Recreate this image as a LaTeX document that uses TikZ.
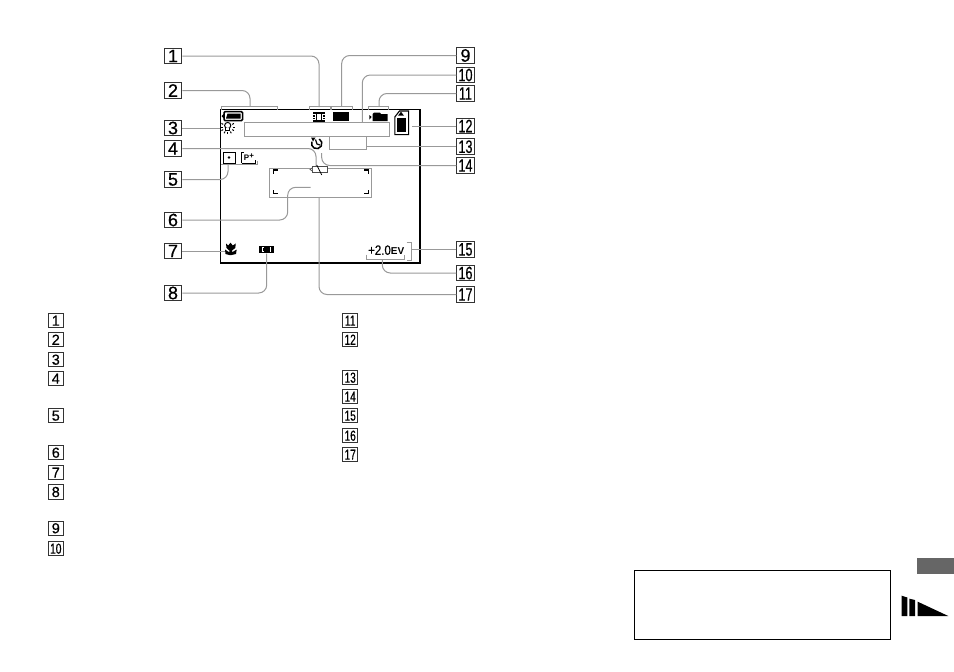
\documentclass[tikz,border=0pt]{standalone}
\usepackage{fontspec}
\setmainfont{Liberation Sans}
\newfontfamily\numfont[FakeBold=0.5]{Liberation Sans}
\newfontfamily\narrowfont[FakeStretch=0.7,FakeBold=0.5]{Liberation Sans}
\newfontfamily\evfont[FakeStretch=0.85,FakeBold=0.4]{Liberation Sans}
\usepackage{tikz}
\usetikzlibrary{calc}
\definecolor{leadgray}{gray}{0.6}
\tikzset{
  numbig/.style={draw=black!80,line width=1pt,fill=white,minimum width=17.5pt,minimum height=15.5pt,inner sep=0pt,font=\fontsize{18}{18}\selectfont\numfont},
  numsmall/.style={draw=black!80,line width=1pt,fill=white,minimum width=14.5pt,minimum height=14.5pt,inner sep=0pt,font=\fontsize{14.5}{15}\selectfont\numfont},
  leader/.style={draw=leadgray,line width=1pt,rounded corners=8pt},
  bracket/.style={draw=leadgray,line width=0.9pt},
  frame/.style={draw=leadgray,line width=1pt,inner sep=0pt},
  cornermark/.style={draw=black,line width=1.3pt}
}
\begin{document}
\begin{tikzpicture}[x=1pt,y=-1pt]
  \useasboundingbox (0,0) rectangle (954,672);
  % number boxes round the screen
  \foreach \n/\y in {1/56,2/90.5,3/128,4/148.5,5/179.5,6/220,7/251,8/293} {
    \node[numbig] (t\n) at (173,\y) {\n};
  }
  \node[numbig] (t9) at (465.5,55.5) {9};
  \foreach \n/\y in {10/75,11/93.5,12/126,13/146.7,14/165.5,15/249.5,16/273,17/294.5} {
    \node[numbig] (t\n) at (465.5,\y) {\narrowfont\n};
  }
  % screen
  \node[draw=black,line width=1.1pt,minimum width=199.5pt,minimum height=153.5pt,inner sep=0pt] (screen) at (320.25,186.25) {};
  \node[frame,minimum width=144.7pt,minimum height=14pt] (date) at (316.65,129.7) {};
  \node[frame,minimum width=102.4pt,minimum height=29.4pt] (af) at (320.5,183) {};
  % end points of the leaders
  \coordinate (b1) at (319,107);
  \coordinate (b2) at (250,106.5);
  \coordinate (b3) at (220,128);
  \coordinate (c4) at (316,166);
  \coordinate (b5) at (228,164);
  \coordinate (c6a) at (287.7,187.3);
  \coordinate (c6b) at (310.7,187.3);
  \coordinate (b7) at (225,251);
  \coordinate (b8) at (266.7,253.5);
  \coordinate (b9) at (341.7,106.7);
  \coordinate (c10) at (362.3,122.7);
  \coordinate (b11) at (379,106.7);
  \coordinate (c12) at (411.7,126);
  \coordinate (b13) at (366.7,146.7);
  \coordinate (c14) at (321.7,153);
  \coordinate (b15) at (411,249.5);
  \coordinate (b16) at (382.3,259.3);
  \coordinate (c17) at (319,197.7);
  \draw[leader] (t1.east) -| (b1);
  \draw[leader] (t2.east) -| (b2);
  \draw[leader] (t3.east) -- (b3);
  \draw[leader] (t4.east) -| (c4);
  \draw[leader] (t5.east) -| (b5);
  \draw[leader] (t6.east) -| (c6a) -- (c6b);
  \draw[leader] (t7.east) -- (b7);
  \draw[leader] (t8.east) -| (b8);
  \draw[leader] (t9.west) -| (b9);
  \draw[leader] (t10.west) -| (c10);
  \draw[leader] (t11.west) -| (b11);
  \draw[leader] (t12.west) -- (c12);
  \draw[leader] (t13.west) -- (b13);
  \draw[leader] (t14.west) -| (c14);
  \draw[leader] (t15.west) -- (b15);
  \draw[leader] (t16.west) -| (b16);
  \draw[leader] (t17.west) -| (c17);
  % brackets
  \draw[bracket] (221.5,110) -- (221.5,106.7) -- (277,106.7) -- (277,110);
  \draw[bracket] (309.5,110) -- (309.5,106.7) -- (330,106.7) -- (330,110);
  \draw[bracket] (331.5,110) -- (331.5,106.7) -- (352,106.7) -- (352,110);
  \draw[bracket] (368.5,110) -- (368.5,106.7) -- (388,106.7) -- (388,110);
  \draw[bracket] (329,136.7) -- (329,149.3) -- (366.7,149.3) -- (366.7,136.7);
  \draw[bracket] (221,164.3) -- (257.7,164.3) -- (257.7,161);
  \draw[bracket] (366.7,254.5) -- (366.7,259.3) -- (404.3,259.3) -- (404.3,254.5);
  \draw[bracket] (406.7,242.5) -- (411,242.5) -- (411,260) -- (406.7,260);
  % focus corners
  \draw[cornermark] (273.3,173.5) -- (273.3,170) -- (277.5,170);
  \draw[cornermark] (364,170) -- (368.3,170) -- (368.3,173.5);
  \draw[cornermark] (273.3,190) -- (273.3,193.5) -- (277.5,193.5);
  \draw[cornermark] (364,193.5) -- (368.3,193.5) -- (368.3,190);
  % shake mark in the frame
  \draw[draw=black!70,line width=0.8pt,fill=white] (312,166.3) rectangle (327.5,172.5);
  \draw[draw=black!70,fill=white,line width=0.7pt] (312,168) -- (310,169.4) -- (312,170.8);
  \draw[black,line width=0.8pt] (316.7,165) -- (321.7,175);
  % battery
  \draw[black,line width=1.5pt,rounded corners=1pt] (224,111.7) rectangle (242.5,120.5);
  \fill[black] (227.5,113.5) -- (240.5,113.5) -- (240.5,118.5) -- (226,118.5) -- cycle;
  \fill[black] (221.5,116) -- (224.5,113) -- (224.5,119) -- cycle;
  % film
  \fill[black] (313,112) rectangle (325,113.8);
  \fill[black] (313,120.2) rectangle (325,122);
  \fill[black] (316,112) rectangle (317.2,122);
  \fill[black] (320.8,112) rectangle (322,122);
  \foreach \i in {0,2.4,4.8,7.2} {
    \fill[black] (313,113+\i) rectangle (315,114.4+\i);
    \fill[black] (323,113+\i) rectangle (325,114.4+\i);
  }
  % black marks at the top
  \fill[black] (332.7,111.7) rectangle (349,121);
  \fill[black] (372.7,114) -- (374,112.7) -- (380,112.7) -- (381,114) -- (387.7,114) -- (387.7,121) -- (372.7,121) -- cycle;
  \fill[black] (369.3,115) -- (371.7,117) -- (369.3,119.5) -- cycle;
  % card
  \draw[black,line width=1.1pt] (394.8,117) -- (399.5,111) -- (408.6,111) -- (408.6,134.6) -- (394.8,134.6) -- cycle;
  \fill[black] (396.7,117.7) rectangle (406,131.7);
  \fill[black] (401,111.7) -- (404,115.7) -- (398,115.7) -- cycle;
  % bulb
  \draw[black,line width=1pt] (227.7,125.5) circle (3.1);
  \fill[white] (225.5,127.5) rectangle (230,129.5);
  \draw[black,line width=1pt] (225.7,128) -- (225.7,130.4) -- (229.7,130.4) -- (229.7,128);
  \foreach \a in {0,180,30,60,90,120,150,-30,-150} {
    \draw[black,line width=1pt] ($(227.7,127)+(\a:5.2)$) -- ($(227.7,127)+(\a:7.2)$);
  }
  % timer
  \draw[black,line width=1.5pt] (319.3,139) arc[start angle=-60,end angle=200,radius=5.2];
  \fill[black] (315.5,137.5) -- (313,141.5) -- (311,137.5) -- cycle;
  \draw[black,line width=1.2pt] (315.5,139.5) -- (317,144) -- (320,145);
  % small boxes
  \draw[black,line width=0.9pt] (223,152) rectangle (235,163);
  \fill[black] (229,157.5) circle (1.3);
  \draw[black,line width=0.9pt] (241.7,163) -- (241.7,152.3) -- (243.5,152.3);
  \draw[black,line width=0.9pt] (241.7,163) -- (255,163) -- (255,160);
  \node[inner sep=0pt,font=\fontsize{8}{8}\selectfont\bfseries] (pplus) at (249,157) {P\raisebox{1.5pt}{+}};
  % tulip
  \fill[black] (226,243.5) -- (228.2,245.5) -- (230.5,242.7) -- (232.8,245.5) -- (235.8,243.5) -- (235.3,248) -- (232,250.5) -- (232,252.3) -- (236.7,249.5) -- (236,254) -- (231.5,255) -- (229.5,255) -- (225.5,254) -- (225,249.5) -- (229.3,252.3) -- (229.3,250.5) -- (226.5,248) -- cycle;
  % meter mark
  \fill[black] (259,246) rectangle (274,253.4);
  \draw[white,line width=0.7pt] (263.5,247.7) -- (262.5,247.7) -- (262.5,251.7) -- (263.5,251.7);
  \draw[white,line width=0.7pt] (269.5,247.7) -- (270.5,247.7) -- (270.5,251.7) -- (269.5,251.7);
  % exposure value
  \node[inner sep=0pt,anchor=base west] (ev) at (368,254.8) {\fontsize{13.5}{14}\selectfont\evfont +2.0\fontsize{10}{10}\selectfont\rmfamily\bfseries EV};
  % key list
  \foreach \n/\y in {1/320.7,2/339.7,3/359.7,4/378.7,5/415.7,6/452.7,7/472.7,8/492,9/528.3} {
    \node[numsmall] (k\n) at (55.8,\y) {\n};
  }
  \node[numsmall] (k10) at (55.8,548.7) {\narrowfont 10};
  \foreach \n/\y in {11/320.7,12/339.7,13/377.7,14/396.7,15/415.7,16/435.7,17/454.7} {
    \node[numsmall] (k\n) at (350.2,\y) {\narrowfont\n};
  }
  % page furniture
  \node[draw=black,line width=1.1pt,minimum width=256.4pt,minimum height=68.6pt,inner sep=0pt] (notebox) at (762.5,605) {};
  \fill[black!60] (917,558.3) rectangle (954,574);
  \fill[black] (901.7,595.7) -- (907.3,597.5) -- (907.3,616) -- (901.7,616) -- cycle;
  \fill[black] (909.3,598.7) -- (915,600) -- (915,616) -- (909.3,616) -- cycle;
  \fill[black] (917.7,601.7) -- (948.3,616) -- (917.7,616) -- cycle;
\end{tikzpicture}
\end{document}
